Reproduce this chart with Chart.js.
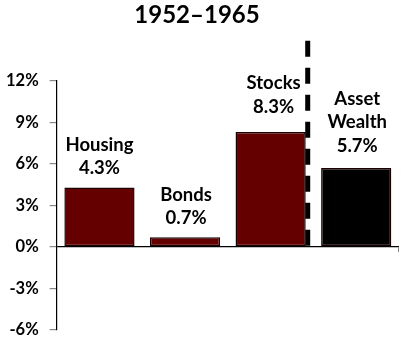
<!DOCTYPE html>
<html>
<head>
<meta charset="utf-8">
<script src="https://cdn.jsdelivr.net/npm/chart.js@4/dist/chart.umd.min.js"></script>
<style>
  html, body { margin: 0; padding: 0; background: #fff; }
  #wrap { width: 406px; height: 340px; }
</style>
</head>
<body>
<div id="wrap"><canvas id="chart" width="406" height="340"></canvas></div>
<script>
// Average annual returns, 1952–1965
const categories = ['Housing', 'Bonds', 'Stocks', 'Asset Wealth'];
const labelLines = [['Housing', '4.3%'], ['Bonds', '0.7%'], ['Stocks', '8.3%'], ['Asset', 'Wealth', '5.7%']];
const returns = [4.3, 0.7, 8.3, 5.7];
const barColors = ['#640000', '#640000', '#640000', '#000000'];
const yTicks = [-6, -3, 0, 3, 6, 9, 12];

const FONT = 'Lato, "Open Sans", sans-serif';

// Text above each bar, plus the dashed divider before the total
const barLabels = {
  id: 'barLabels',
  afterDatasetsDraw(chart, args, opts) {
    const ctx = chart.ctx;
    const meta = chart.getDatasetMeta(0);
    ctx.save();
    ctx.font = 'bold 18.5px ' + FONT;
    ctx.fillStyle = '#000';
    ctx.textAlign = 'center';
    ctx.textBaseline = 'middle';
    meta.data.forEach((bar, i) => {
      const lines = labelLines[i];
      const gap = opts.gaps[i];
      lines.forEach((txt, j) => {
        const y = bar.y - gap - (lines.length - 1 - j) * 23.5;
        ctx.fillText(txt, bar.x + opts.shift[i], y);
      });
    });

    // dashed divider just right of the stocks bar
    const stocks = meta.data[2];
    const x = stocks.x + stocks.width / 2 + 2;
    const yScale = chart.scales.y;
    const zeroY = yScale.getPixelForValue(0);
    ctx.strokeStyle = '#000';
    ctx.lineWidth = 5;
    ctx.setLineDash([16, 11]);
    ctx.beginPath();
    ctx.moveTo(x, chart.chartArea.top - 40);
    ctx.lineTo(x, zeroY);
    ctx.stroke();

    // small tick closing the zero line on the right
    ctx.setLineDash([]);
    ctx.lineWidth = 1;
    ctx.strokeStyle = '#888';
    ctx.beginPath();
    ctx.moveTo(chart.chartArea.right - 0.5, zeroY);
    ctx.lineTo(chart.chartArea.right - 0.5, zeroY + 5);
    ctx.stroke();
    ctx.restore();
  }
};

new Chart(document.getElementById('chart'), {
  type: 'bar',
  data: {
    labels: categories,
    datasets: [{
      data: returns,
      backgroundColor: barColors,
      borderColor: '#1a0000',
      borderWidth: 1.5,
      borderSkipped: false,
      barPercentage: 0.82,
      categoryPercentage: 1
    }]
  },
  options: {
    responsive: false,
    animation: false,
    layout: { padding: { left: -5, right: 7, bottom: 0 } },
    plugins: {
      legend: { display: false },
      tooltip: { enabled: false },
      title: {
        display: true,
        text: '1952–1965',
        color: '#000',
        font: { family: FONT, size: 24, weight: 'bold' },
        padding: { top: 1, bottom: 51 }
      },
      barLabels: {
        gaps: [19, 19, 25, 22],
        shift: [0, 1, 3, 1]
      }
    },
    scales: {
      x: {
        display: false,
        offset: true
      },
      y: {
        min: -6,
        max: 12,
        afterBuildTicks(axis) {
          axis.ticks = yTicks.map(v => ({ value: v }));
        },
        // keep only half a label of room above and below the plot
        afterFit(axis) {
          axis.paddingTop = 10;
          axis.paddingBottom = 10;
        },
        border: { display: true, color: '#000', width: 1.2 },
        grid: {
          drawOnChartArea: true,
          drawTicks: true,
          tickLength: 7,
          tickColor: '#888',
          color: ctx => (ctx.tick && ctx.tick.value === 0 ? '#000' : 'rgba(0,0,0,0)'),
          lineWidth: 1.2
        },
        ticks: {
          padding: 11,
          color: '#000',
          font: { family: FONT, size: 16.5, weight: 'bold' },
          callback: v => v + '%'
        }
      }
    }
  },
  plugins: [barLabels]
});
</script>
</body>
</html>
